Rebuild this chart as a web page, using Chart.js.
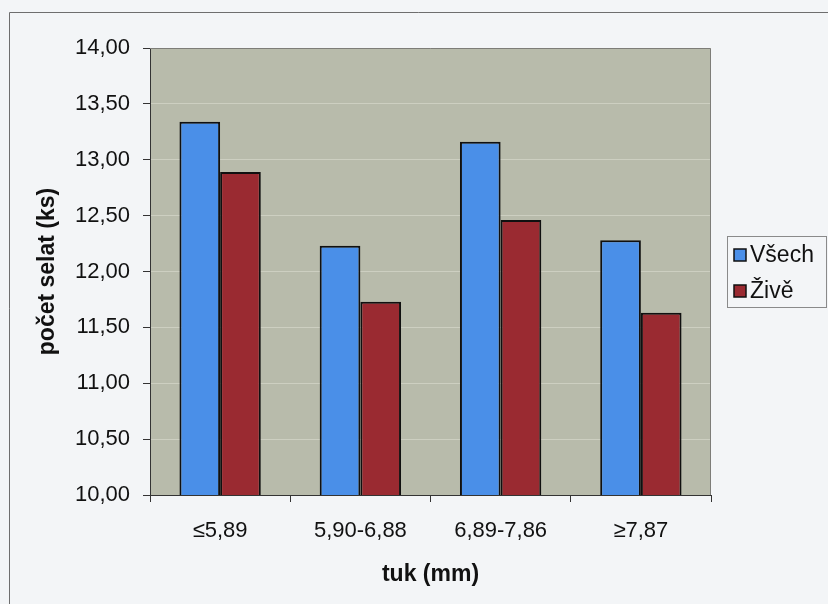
<!DOCTYPE html>
<html>
<head>
<meta charset="utf-8">
<script src="https://cdn.jsdelivr.net/npm/chart.js@4"></script>
<style>
  html, body { margin: 0; padding: 0; background: #f3f5f7; }
  #wrap { width: 828px; height: 604px; }
</style>
</head>
<body>
<div id="wrap"><canvas id="chart" width="828" height="604"></canvas></div>
<script>
// fat thickness classes (mm)
const categories = ['≤5,89', '5,90-6,88', '6,89-7,86', '≥7,87'];
const seriesNames = ['Všech', 'Živě'];
const vsech = [13.34, 12.23, 13.16, 12.28];
const zive = [12.89, 11.73, 12.46, 11.63];
const yMin = 10, yMax = 14, yStep = 0.5;

const FONT = '"Liberation Sans", Arial, sans-serif';

// grey plot area + frame around the whole chart
const frame = {
  id: 'frame',
  beforeDraw(chart) {
    const { ctx, chartArea: a } = chart;
    ctx.save();
    ctx.fillStyle = '#f3f5f7';
    ctx.fillRect(0, 0, chart.width, chart.height);
    ctx.strokeStyle = '#6e6e6e';
    ctx.lineWidth = 1;
    ctx.beginPath();
    ctx.moveTo(9.5, chart.height);
    ctx.lineTo(9.5, 12.5);
    ctx.lineTo(chart.width, 12.5);
    ctx.stroke();
    ctx.fillStyle = '#b8bbab';
    ctx.fillRect(a.left, a.top, a.right - a.left, a.bottom - a.top);
    ctx.restore();
  },
  afterDatasetsDraw(chart) {
    const { ctx, chartArea: a } = chart;
    ctx.save();
    ctx.strokeStyle = '#7d7d78';
    ctx.lineWidth = 1;
    ctx.beginPath();
    ctx.moveTo(a.left, a.top + 0.5);
    ctx.lineTo(a.right - 0.5, a.top + 0.5);
    ctx.lineTo(a.right - 0.5, a.bottom);
    ctx.stroke();
    ctx.restore();
  }
};

// legend box on the right, like the Excel one
const boxLegend = {
  id: 'boxLegend',
  afterDraw(chart) {
    const { ctx } = chart;
    ctx.save();
    ctx.strokeStyle = '#8a8a8a';
    ctx.lineWidth = 1;
    ctx.strokeRect(727.5, 236.5, 99, 71);
    ctx.font = '23px ' + FONT;
    ctx.textBaseline = 'middle';
    chart.data.datasets.forEach((ds, i) => {
      const y = 255 + i * 36;
      ctx.fillStyle = ds.backgroundColor;
      ctx.fillRect(734, y - 6, 12, 12);
      ctx.strokeStyle = '#111';
      ctx.lineWidth = 1.5;
      ctx.strokeRect(734, y - 6, 12, 12);
      ctx.fillStyle = '#111';
      ctx.fillText(ds.label, 750, y + 1);
    });
    ctx.restore();
  }
};

new Chart(document.getElementById('chart'), {
  type: 'bar',
  data: {
    labels: categories,
    datasets: [
      { label: seriesNames[0], data: vsech, backgroundColor: '#4a8fe8' },
      { label: seriesNames[1], data: zive, backgroundColor: '#9a2a31' }
    ]
  },
  options: {
    responsive: false,
    animation: false,
    layout: { padding: { left: 32, top: 48, right: 117, bottom: 13 } },
    datasets: {
      bar: {
        categoryPercentage: 0.58,
        barPercentage: 1,
        borderColor: '#101010',
        borderWidth: 2,
        borderSkipped: false
      }
    },
    plugins: {
      legend: { display: false },
      tooltip: { enabled: false }
    },
    scales: {
      x: {
        afterFit(scale) { scale.height = 96; },
        grid: {
          drawOnChartArea: false,
          tickLength: 7,
          tickColor: '#333',
          offset: true
        },
        border: { color: '#333', width: 1 },
        ticks: { color: '#111', font: { family: FONT, size: 22 }, padding: 16 },
        title: {
          display: true,
          text: 'tuk (mm)',
          color: '#111',
          font: { family: FONT, size: 23, weight: 'bold' },
          padding: { top: 0, bottom: 3 }
        }
      },
      y: {
        min: yMin,
        max: yMax,
        afterFit(scale) { scale.width = 118; },
        grid: {
          color: 'rgba(225,228,215,0.5)',
          tickLength: 7,
          tickColor: '#333'
        },
        border: { color: '#333', width: 1 },
        ticks: {
          stepSize: yStep,
          color: '#111',
          padding: 13,
          font: { family: FONT, size: 22 },
          callback: v => v.toFixed(2).replace('.', ',')
        },
        title: {
          display: true,
          text: 'počet selat (ks)',
          color: '#111',
          font: { family: FONT, size: 23, weight: 'bold' },
          padding: { top: 2, bottom: 0 }
        }
      }
    }
  },
  plugins: [frame, boxLegend]
});
</script>
</body>
</html>
